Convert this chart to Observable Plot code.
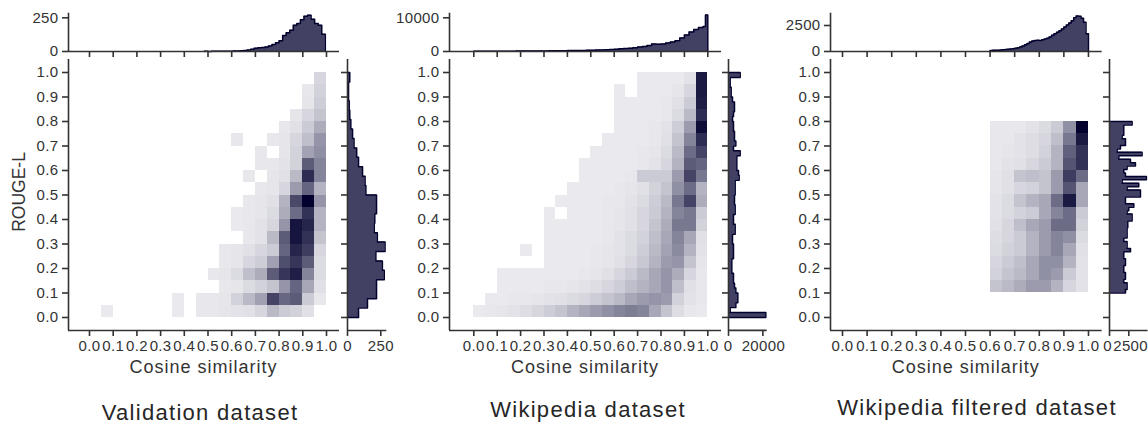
<!DOCTYPE html>
<html><head><meta charset="utf-8">
<script src="https://cdn.jsdelivr.net/npm/d3@7"></script>
<script src="https://cdn.jsdelivr.net/npm/@observablehq/plot@0.6"></script>
<style>
body{margin:0;background:#fff;}
#root{position:relative;width:1148px;height:430px;overflow:hidden;font-family:"Liberation Sans",Arial,sans-serif;color:#333;background:#fff;}
</style></head>
<body><div id="root"></div>
<script>
// ---------------- DATA ----------------
const titles = ["Validation dataset", "Wikipedia dataset", "Wikipedia filtered dataset"];
const xLabel = "Cosine similarity";
const yLabel = "ROUGE-L";
const xTicks = [0.0,0.1,0.2,0.3,0.4,0.5,0.6,0.7,0.8,0.9,1.0];
const yTicks = [0.0,0.1,0.2,0.3,0.4,0.5,0.6,0.7,0.8,0.9,1.0];
const cellSize = 0.05;

// 2D histogram intensity (0 = empty, 100 = darkest); rows from ROUGE-L 0.00 (bottom) upward, columns cosine 0.00..0.95
const valGrid = [
 [0,2,0,0,0,0,0,2,0,3,3,4,5,6,10,22,15,12,6,0],
 [0,0,0,0,0,0,0,2,0,3,3,4,12,22,33,72,57,62,15,3],
 [0,0,0,0,0,0,0,0,0,0,0,3,4,8,12,18,38,58,30,6],
 [0,0,0,0,0,0,0,0,0,0,3,4,8,20,28,62,78,88,45,8],
 [0,0,0,0,0,0,0,0,0,0,0,3,4,10,14,33,68,78,62,8],
 [0,0,0,0,0,0,0,0,0,0,0,3,4,6,10,15,58,85,75,10],
 [0,0,0,0,0,0,0,0,0,0,0,0,0,3,5,22,62,92,80,18],
 [0,0,0,0,0,0,0,0,0,0,0,0,2,3,5,10,38,92,85,25],
 [0,0,0,0,0,0,0,0,0,0,0,0,2,3,4,8,28,55,80,25],
 [0,0,0,0,0,0,0,0,0,0,0,0,0,3,4,6,25,70,100,38],
 [0,0,0,0,0,0,0,0,0,0,0,0,0,0,3,4,10,35,58,25],
 [0,0,0,0,0,0,0,0,0,0,0,0,0,3,0,4,6,22,82,45],
 [0,0,0,0,0,0,0,0,0,0,0,0,0,0,3,3,5,12,62,45],
 [0,0,0,0,0,0,0,0,0,0,0,0,0,0,3,0,4,12,32,40],
 [0,0,0,0,0,0,0,0,0,0,0,0,3,0,0,3,4,10,20,38],
 [0,0,0,0,0,0,0,0,0,0,0,0,0,0,0,0,3,6,15,28],
 [0,0,0,0,0,0,0,0,0,0,0,0,0,0,0,0,0,4,10,18],
 [0,0,0,0,0,0,0,0,0,0,0,0,0,0,0,0,0,0,4,14],
 [0,0,0,0,0,0,0,0,0,0,0,0,0,0,0,0,0,0,3,12],
 [0,0,0,0,0,0,0,0,0,0,0,0,0,0,0,0,0,0,0,10]
];
const wikiGrid = [
 [2,3,4,5,7,10,14,18,25,30,35,40,45,48,45,30,18,7,3,2],
 [0,2,2,3,3,4,5,6,8,10,14,18,22,30,35,38,35,12,5,3],
 [0,0,2,2,2,2,3,3,4,5,7,10,14,20,25,30,38,20,6,3],
 [0,0,2,2,2,2,2,2,2,3,4,6,10,15,22,30,38,28,10,3],
 [0,0,0,0,0,0,2,2,2,2,3,4,6,10,16,25,35,38,18,4],
 [0,0,0,0,2,0,2,2,2,2,3,4,5,8,14,22,32,42,25,5],
 [0,0,0,0,0,0,2,2,2,2,2,3,5,8,12,20,30,45,30,6],
 [0,0,0,0,0,0,2,2,2,2,2,3,4,6,10,18,28,50,50,12],
 [0,0,0,0,0,0,2,0,2,2,2,3,4,6,10,15,25,45,50,15],
 [0,0,0,0,0,0,0,2,2,2,2,3,3,5,8,14,22,50,72,28],
 [0,0,0,0,0,0,0,0,2,2,2,2,3,4,6,12,18,40,55,25],
 [0,0,0,0,0,0,0,0,0,2,2,2,2,3,15,15,15,35,72,50],
 [0,0,0,0,0,0,0,0,0,2,2,2,2,2,3,5,10,25,62,58],
 [0,0,0,0,0,0,0,0,0,0,2,2,2,2,3,4,8,22,55,72],
 [0,0,0,0,0,0,0,0,0,0,0,2,2,2,2,3,6,18,45,82],
 [0,0,0,0,0,0,0,0,0,0,0,0,2,2,2,3,5,14,35,95],
 [0,0,0,0,0,0,0,0,0,0,0,0,2,2,2,2,3,8,22,82],
 [0,0,0,0,0,0,0,0,0,0,0,0,2,2,2,2,3,6,15,88],
 [0,0,0,0,0,0,0,0,0,0,0,0,2,0,2,2,2,4,10,90],
 [0,0,0,0,0,0,0,0,0,0,0,0,0,0,2,2,2,2,5,90]
];
const filtGrid = [
 [0,0,0,0,0,0,0,0,0,0,0,0,0,0,0,0,0,0,0,0],
 [0,0,0,0,0,0,0,0,0,0,0,0,0,0,0,0,0,0,0,0],
 [0,0,0,0,0,0,0,0,0,0,0,0,18,22,28,35,35,25,10,5],
 [0,0,0,0,0,0,0,0,0,0,0,0,12,18,22,30,40,35,15,5],
 [0,0,0,0,0,0,0,0,0,0,0,0,10,15,20,30,40,40,25,5],
 [0,0,0,0,0,0,0,0,0,0,0,0,8,12,15,25,35,45,30,6],
 [0,0,0,0,0,0,0,0,0,0,0,0,7,10,15,25,35,45,40,8],
 [0,0,0,0,0,0,0,0,0,0,0,0,6,10,20,30,35,55,55,12],
 [0,0,0,0,0,0,0,0,0,0,0,0,5,8,12,15,30,45,55,15],
 [0,0,0,0,0,0,0,0,0,0,0,0,5,8,18,25,30,55,90,30],
 [0,0,0,0,0,0,0,0,0,0,0,0,4,6,10,12,18,35,65,30],
 [0,0,0,0,0,0,0,0,0,0,0,0,4,6,18,20,18,35,75,55],
 [0,0,0,0,0,0,0,0,0,0,0,0,3,5,6,10,15,25,65,80],
 [0,0,0,0,0,0,0,0,0,0,0,0,3,4,5,7,12,25,60,80],
 [0,0,0,0,0,0,0,0,0,0,0,0,3,3,5,7,10,20,50,90],
 [0,0,0,0,0,0,0,0,0,0,0,0,3,3,3,5,8,15,40,100],
 [0,0,0,0,0,0,0,0,0,0,0,0,0,0,0,0,0,0,0,0],
 [0,0,0,0,0,0,0,0,0,0,0,0,0,0,0,0,0,0,0,0],
 [0,0,0,0,0,0,0,0,0,0,0,0,0,0,0,0,0,0,0,0],
 [0,0,0,0,0,0,0,0,0,0,0,0,0,0,0,0,0,0,0,0]
];

// top marginal histograms (cosine similarity)
const valTopStart = 0.485, valTopStep = 0.015;
const valTopCounts = [1,0,1,1,1,2,2,2,3,4,6,8,12,16,24,28,30,34,40,52,64,80,118,140,158,195,208,235,262,268,240,208,195,128];
const wikiTopEdges = [...d3.range(50).map(k => k * 0.02), 0.99, 1.0];
const wikiTopCounts = [60,70,80,90,90,100,100,110,110,120,130,140,150,160,170,180,190,200,220,240,260,280,300,330,360,390,420,460,520,600,700,780,880,1000,1150,1300,1500,1800,2200,2150,2250,2500,2800,3200,4000,4900,5800,6500,7100,7400,10800];
const filtTopStart = 0.6, filtTopStep = 0.01;
const filtTopCounts = [100,110,120,130,140,160,180,210,240,270,300,360,430,520,640,780,920,1000,1060,1080,1060,1120,1200,1280,1400,1560,1700,1840,2000,2170,2350,2550,2750,2950,3250,3420,3400,3200,2800,1700];

// right marginal histograms (ROUGE-L)
const valRightStart = 0, valRightStep = 1/26;
const valRightCounts = [83,150,218,218,276,262,213,282,224,201,205,218,218,138,132,113,83,69,49,38,25,17,13,8,8,17];
const wikiRightStart = 0, wikiRightStep = 0.02;
const wikiRightCounts = [21700,970,4270,5430,5430,4270,3490,2910,2910,1940,1940,1940,2910,2910,2910,2330,2330,3880,3880,2910,2910,3880,3880,3490,3490,3880,3880,3880,6210,5820,4850,4850,4850,6790,2910,4270,3490,3490,2910,2910,2330,2910,3490,3490,2330,1550,1550,970,970,6790];
const filtRightStart = 0.1, filtRightStep = 0.014;
const filtRightCounts = [2070,2280,2280,1850,2070,2070,1850,1850,2070,2070,1850,1850,2720,2280,2280,1850,2280,2280,2280,2370,2370,2930,2930,2280,2500,3150,2070,2070,4010,4010,2280,3790,1640,4780,2070,1850,2280,3360,2720,1210,4220,990,1420,2070,2070,1640,1850,1850,1850,2930];

const topTicks = [[0,250],[0,10000],[0,2500]];
const rightTicks = [[0,250],[0,20000],[0,2500]];

// ---------------- LAYOUT / STYLE ----------------
const BASE = "#03022f", LIGHT = "#eeeef2", AX = "#333", SW = 1.6;
const Y0PX = 317, Y1PX = 72, FRAME_TOP = 59, FRAME_BOT = 330, TOP_ZERO = 51, TOP_TOP = 12.7;
const yd = [(Y0PX - FRAME_BOT) / (Y0PX - Y1PX), (Y0PX - FRAME_TOP) / (Y0PX - Y1PX)];
const f1 = d => d.toFixed(1);
const none = () => "";
const root = document.getElementById("root");
const plotStyle = {background: "transparent", overflow: "visible", fontFamily: "'Liberation Sans', Arial, sans-serif", fontSize: "15px", color: AX, letterSpacing: "0.35px"};

const uniformEdges = (start, step, n) => d3.range(n + 1).map(k => start + k * step);
const panels = [
  {grid: valGrid, topEdges: uniformEdges(valTopStart, valTopStep, valTopCounts.length), topCounts: valTopCounts,
   rightEdges: uniformEdges(valRightStart, valRightStep, valRightCounts.length), rightCounts: valRightCounts,
   mainL: 68, mainR: 339, x0: 89, x1: 326, rightL: 346.7, rightTickPx: 380, rightR: 386, titleBase: 421, titleX: 200, topTickPx: 17.3, rightLabelNudge: 0},
  {grid: wikiGrid, topEdges: wikiTopEdges, topCounts: wikiTopCounts,
   rightEdges: uniformEdges(wikiRightStart, wikiRightStep, wikiRightCounts.length), rightCounts: wikiRightCounts,
   mainL: 449, mainR: 721, x0: 473.3, x1: 707.3, rightL: 728.3, rightTickPx: 762.7, rightR: 767, titleBase: 418, titleX: 588, topTickPx: 17.3, rightLabelNudge: 0.5},
  {grid: filtGrid, topEdges: uniformEdges(filtTopStart, filtTopStep, filtTopCounts.length), topCounts: filtTopCounts,
   rightEdges: uniformEdges(filtRightStart, filtRightStep, filtRightCounts.length), rightCounts: filtRightCounts,
   mainL: 830, mainR: 1101.7, x0: 842, x1: 1088, rightL: 1109, rightTickPx: 1128.3, rightR: 1147.5, titleBase: 416, titleX: 977, topTickPx: 25, rightLabelNudge: 1.8}
];
panels.forEach((p, k) => {
  p.title = titles[k]; p.topTicks = topTicks[k]; p.rightTicks = rightTicks[k];
  p.topMax = (TOP_ZERO - TOP_TOP) / (TOP_ZERO - p.topTickPx) * p.topTicks[1];
});

function cellsFrom(grid) {
  const out = [];
  grid.forEach((row, j) => row.forEach((v, i) => {
    if (v > 0) out.push({x1: i * cellSize, x2: (i + 1) * cellSize, y1: j * cellSize, y2: (j + 1) * cellSize, v});
  }));
  return out;
}
function stepPoints(edges, counts) {
  const pts = [{p: edges[0], c: 0}];
  counts.forEach((c, k) => pts.push({p: edges[k], c}));
  pts.push({p: edges[counts.length], c: 0});
  return pts;
}
function place(svg, left, top) {
  svg.style.position = "absolute";
  svg.style.left = left + "px";
  svg.style.top = top + "px";
  root.appendChild(svg);
}
function xDomain(p) { return [(p.mainL - p.x0) / (p.x1 - p.x0), (p.mainR - p.x0) / (p.x1 - p.x0)]; }

function mainPlot(p) {
  const ML = 60, MB = 40, W = p.mainR - p.mainL, H = FRAME_BOT - FRAME_TOP, xd = xDomain(p);
  const svg = Plot.plot({
    width: ML + W, height: H + MB, marginLeft: ML, marginRight: 0, marginTop: 0, marginBottom: MB,
    x: {domain: xd}, y: {domain: yd},
    color: {type: "linear", domain: [0, 100], range: [LIGHT, BASE]},
    style: plotStyle,
    marks: [
      Plot.rect(cellsFrom(p.grid), {x1: "x1", x2: "x2", y1: "y1", y2: "y2", fill: "v", shapeRendering: "crispEdges"}),
      Plot.ruleX([xd[0]], {y1: yd[0], y2: yd[1], stroke: AX, strokeWidth: SW}),
      Plot.ruleY([yd[0]], {x1: xd[0], x2: xd[1], stroke: AX, strokeWidth: SW}),
      Plot.axisX({ticks: xTicks, tickFormat: f1, tickSize: 6, tickPadding: 4, label: null, strokeWidth: SW}),
      Plot.axisY({ticks: yTicks, tickFormat: f1, tickSize: 6, tickPadding: 4, label: null, strokeWidth: SW})
    ]
  });
  place(svg, p.mainL - ML, FRAME_TOP);
}
function topPlot(p) {
  const ML = 60, MB = 10, W = p.mainR - p.mainL, H = TOP_ZERO - TOP_TOP, xd = xDomain(p);
  const pts = stepPoints(p.topEdges, p.topCounts);
  const svg = Plot.plot({
    width: ML + W, height: TOP_TOP + H + MB, marginLeft: ML, marginRight: 0, marginTop: TOP_TOP, marginBottom: MB,
    x: {domain: xd}, y: {domain: [0, p.topMax]},
    style: plotStyle,
    marks: [
      Plot.areaY(pts, {x: "p", y1: 0, y2: "c", curve: "step-after", fill: BASE, fillOpacity: 0.75}),
      Plot.lineY(pts, {x: "p", y: "c", curve: "step-after", stroke: BASE, strokeWidth: 1.5}),
      Plot.ruleX([xd[0]], {y1: 0, y2: p.topMax, stroke: AX, strokeWidth: SW}),
      Plot.ruleY([0], {x1: xd[0], x2: xd[1], stroke: AX, strokeWidth: SW}),
      Plot.axisX({ticks: xTicks, tickFormat: none, tickSize: 6, label: null, strokeWidth: SW}),
      Plot.axisY({ticks: p.topTicks, tickFormat: d => String(d), tickSize: 6, tickPadding: 4, label: null, strokeWidth: SW})
    ]
  });
  place(svg, p.mainL - ML, 0);
}
function rightPlot(p) {
  const ML = 10, MB = 40, W = p.rightR - p.rightL, H = FRAME_BOT - FRAME_TOP;
  const xmax = (p.rightR - p.rightL) / (p.rightTickPx - p.rightL) * p.rightTicks[1];
  const pts = stepPoints(p.rightEdges, p.rightCounts);
  const n = p.rightLabelNudge;
  const svg = Plot.plot({
    width: ML + W, height: H + MB, marginLeft: ML, marginRight: 0, marginTop: 0, marginBottom: MB,
    x: {domain: [0, xmax]}, y: {domain: yd},
    style: plotStyle,
    marks: [
      Plot.areaX(pts, {y: "p", x1: 0, x2: "c", curve: "step-before", fill: BASE, fillOpacity: 0.75}),
      Plot.lineX(pts, {y: "p", x: "c", curve: "step-before", stroke: BASE, strokeWidth: 1.5}),
      Plot.ruleX([0], {y1: yd[0], y2: yd[1], stroke: AX, strokeWidth: SW}),
      Plot.ruleY([yd[0]], {x1: 0, x2: xmax, stroke: AX, strokeWidth: SW}),
      Plot.axisY({ticks: yTicks, tickFormat: none, tickSize: 6, label: null, strokeWidth: SW}),
      Plot.axisX({ticks: p.rightTicks, tickFormat: none, tickSize: 6, label: null, strokeWidth: SW}),
      Plot.axisX({ticks: [p.rightTicks[0]], tickFormat: d => String(d), tickSize: 0, tickPadding: 10, label: null, dx: -n}),
      Plot.axisX({ticks: [p.rightTicks[1]], tickFormat: d => String(d), tickSize: 0, tickPadding: 10, label: null, dx: n})
    ]
  });
  place(svg, p.rightL - ML, FRAME_TOP);
}
function addText(txt, cx, baseline, fs, ls, color) {
  const d = document.createElement("div");
  d.textContent = txt;
  Object.assign(d.style, {position: "absolute", left: cx + "px", top: (baseline - 0.8465 * fs) + "px",
    fontSize: fs + "px", lineHeight: "1", letterSpacing: ls + "px", transform: "translateX(-50%)",
    whiteSpace: "nowrap", color});
  root.appendChild(d);
}

panels.forEach(p => {
  mainPlot(p); topPlot(p); rightPlot(p);
  addText(xLabel, (p.mainL + p.mainR) / 2, 373, 18, 1, "#333");
  addText(p.title, p.titleX, p.titleBase, 22, 1.3, "#262626");
});
const yl = document.createElement("div");
yl.textContent = yLabel;
Object.assign(yl.style, {position: "absolute", left: "20px", top: "192px", fontSize: "17.5px", lineHeight: "1",
  whiteSpace: "nowrap", color: "#333", transform: "translate(-50%,-50%) rotate(-90deg)"});
root.appendChild(yl);
</script>
</body></html>
